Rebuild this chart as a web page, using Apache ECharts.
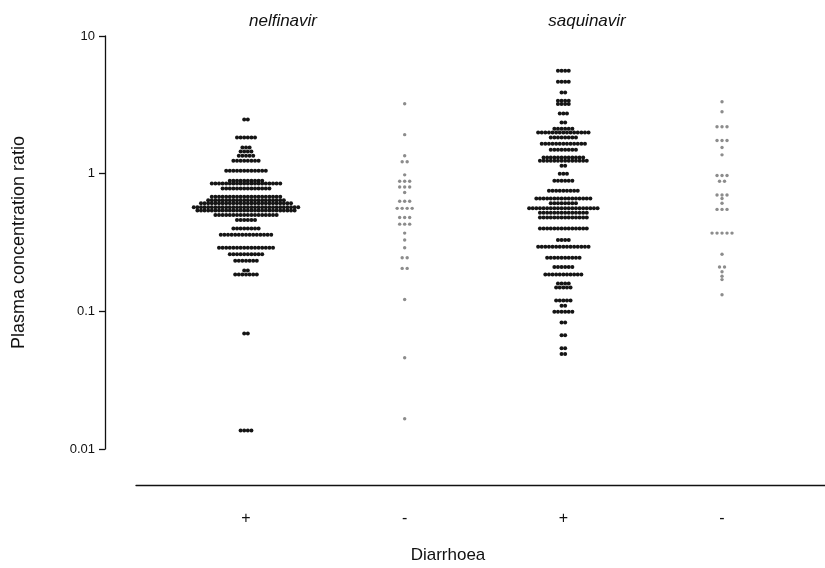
<!DOCTYPE html>
<html><head><meta charset="utf-8">
<script src="https://cdn.jsdelivr.net/npm/echarts@6/dist/echarts.min.js"></script>
<style>html,body{margin:0;padding:0;background:#fff}#c{width:825px;height:568px}</style>
</head><body><div id="c"></div>
<script>
// ---- data ----
const groupPositions = [1, 2, 3, 4];
const xTickLabels = ['+', '-', '+', '-'];
const drugNames = ['nelfinavir', 'saquinavir'];
const xAxisTitle = 'Diarrhoea';
const yAxisTitle = 'Plasma concentration ratio';
const yTickLabels = ['0.01', '0.1', '1', '10'];

// nelfinavir, diarrhoea +  (row level value, number of dots in that row)
const nelfPlusLevels = [2.47, 1.83, 1.55, 1.45, 1.35, 1.24, 1.05, 0.89, 0.85, 0.78, 0.68, 0.64, 0.61, 0.57, 0.54, 0.50, 0.46, 0.40, 0.36, 0.29, 0.26, 0.233, 0.198, 0.185, 0.069, 0.0136];
const nelfPlusCounts = [2, 6, 3, 4, 5, 8, 12, 10, 20, 14, 20, 22, 26, 30, 28, 18, 6, 8, 15, 16, 10, 7, 2, 7, 2, 4];

// nelfinavir, diarrhoea -
const nelfMinusLevels = [3.22, 1.92, 1.35, 1.22, 0.98, 0.88, 0.80, 0.73, 0.63, 0.56, 0.48, 0.43, 0.37, 0.33, 0.29, 0.245, 0.205, 0.122, 0.046, 0.0166];
const nelfMinusCounts = [1, 1, 1, 2, 1, 3, 3, 1, 3, 4, 3, 3, 1, 1, 1, 2, 2, 1, 1, 1];

// saquinavir, diarrhoea +
const saqPlusLevels = [5.60, 4.66, 3.88, 3.39, 3.2, 2.73, 2.35, 2.12, 1.99, 1.83, 1.65, 1.49, 1.31, 1.24, 1.14, 1.0, 0.89, 0.75, 0.66, 0.61, 0.56, 0.52, 0.48, 0.40, 0.33, 0.295, 0.245, 0.21, 0.185, 0.159, 0.149, 0.12, 0.11, 0.0995, 0.083, 0.067, 0.054, 0.049];
const saqPlusCounts = [4, 4, 2, 4, 4, 3, 2, 6, 15, 8, 13, 8, 12, 14, 2, 3, 6, 9, 16, 8, 20, 14, 14, 14, 4, 15, 10, 6, 11, 4, 5, 5, 2, 6, 2, 2, 2, 2];

// saquinavir, diarrhoea -
const saqMinusLevels = [3.33, 2.82, 2.19, 1.74, 1.55, 1.37, 0.97, 0.88, 0.70, 0.66, 0.61, 0.55, 0.37, 0.26, 0.21, 0.194, 0.18, 0.17, 0.132];
const saqMinusCounts = [1, 1, 3, 3, 1, 1, 3, 2, 3, 1, 1, 3, 5, 1, 2, 1, 1, 1, 1];

// ---- layout helper: spread the dots of each row symmetrically around the group centre ----
function swarm(levels, counts, center, pitch) {
  const out = [];
  levels.forEach((v, k) => {
    const n = counts[k];
    for (let i = 0; i < n; i++) out.push([center + (i - (n - 1) / 2) * pitch, v]);
  });
  return out;
}
const blackPitch = 0.0227, greyPitch = 0.0315;
const font = '"Liberation Sans", Arial, Helvetica, sans-serif';

const chart = echarts.init(document.getElementById('c'), null, {renderer: 'canvas'});
const dotSeries = (data, color, size) => ({
  type: 'scatter', data, symbol: 'circle', symbolSize: size,
  itemStyle: {color, opacity: 1}, silent: true, animation: false
});

chart.setOption({
  animation: false,
  backgroundColor: '#fff',
  grid: {left: 136, right: 0, top: 36, bottom: 119, containLabel: false, outerBoundsMode: 'none'},
  xAxis: {
    type: 'value', min: 0.3067, max: 4.649, offset: 36,
    axisLine: {show: true, lineStyle: {color: '#111', width: 1.3}},
    axisTick: {show: false}, splitLine: {show: false},
    axisLabel: {
      customValues: groupPositions, margin: 26,
      formatter: v => xTickLabels[groupPositions.indexOf(v)] || '',
      color: '#111', fontSize: 16, fontFamily: font
    }
  },
  yAxis: {
    type: 'log', logBase: 10, min: 0.01, max: 10, offset: 31,
    name: yAxisTitle, nameLocation: 'middle', nameGap: 77, nameRotate: 90,
    nameTextStyle: {color: '#111', fontSize: 18, fontFamily: font},
    axisLine: {show: true, lineStyle: {color: '#111', width: 1.3}},
    axisTick: {show: true, length: 6, lineStyle: {color: '#111', width: 1.3}},
    splitLine: {show: false}, minorTick: {show: false},
    axisLabel: {
      color: '#111', fontSize: 13, fontFamily: font, margin: 10,
      formatter: v => {
        const e = Math.round(Math.log10(v));
        return yTickLabels[e + 2] || '';
      }
    }
  },
  graphic: [
    {type: 'text', x: 283, y: 21, style: {text: drugNames[0], align: 'center', verticalAlign: 'middle', fontStyle: 'italic', fontSize: 17, fontFamily: font, fill: '#111'}},
    {type: 'text', x: 587, y: 21, style: {text: drugNames[1], align: 'center', verticalAlign: 'middle', fontStyle: 'italic', fontSize: 17, fontFamily: font, fill: '#111'}},
    {type: 'text', x: 448, y: 555, style: {text: xAxisTitle, align: 'center', verticalAlign: 'middle', fontSize: 17, fontFamily: font, fill: '#111'}}
  ],
  series: [
    dotSeries(swarm(nelfPlusLevels, nelfPlusCounts, groupPositions[0], blackPitch), '#151515', 4),
    dotSeries(swarm(nelfMinusLevels, nelfMinusCounts, groupPositions[1], greyPitch), '#8c8c8c', 3.4),
    dotSeries(swarm(saqPlusLevels, saqPlusCounts, groupPositions[2], blackPitch), '#151515', 4),
    dotSeries(swarm(saqMinusLevels, saqMinusCounts, groupPositions[3], greyPitch), '#8c8c8c', 3.4)
  ]
});
</script>
</body></html>
